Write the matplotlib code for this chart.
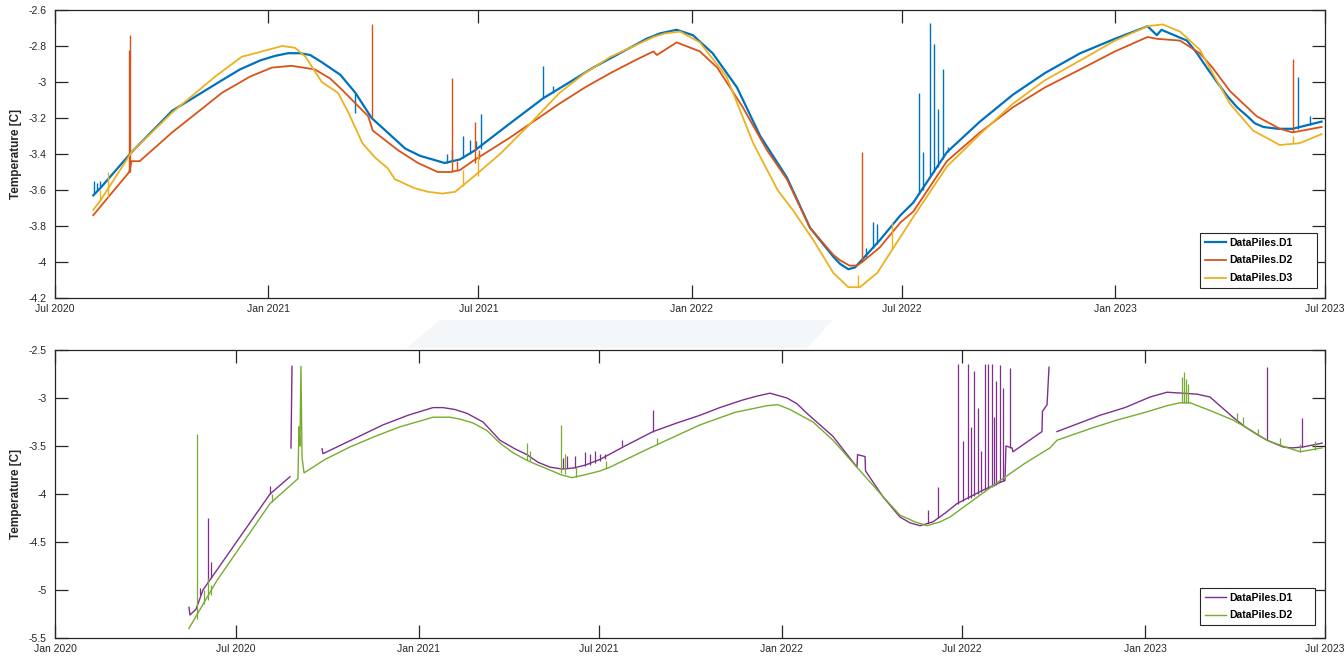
import numpy as np
import pandas as pd
import matplotlib
matplotlib.use("Agg")
import matplotlib.pyplot as plt
import matplotlib.dates as mdates
from matplotlib.ticker import FuncFormatter, MultipleLocator
from matplotlib.patches import Polygon

# ---------------- data: top panel (days since 2020-07-01) ----------------
top_origin = "2020-07-01"

d1_top_days = [33, 39, 66, 101, 144, 159.5, 177, 189.7, 201, 211.2, 220, 230, 246, 259, 273,
               302, 314.7, 336, 349.2, 362, 392.3, 421, 444, 464, 487.1, 510, 521.6, 536, 550,
               567, 588, 608, 631, 651, 671, 676.8, 684, 689.8, 694, 711, 729, 740, 769, 797.5,
               826, 853.6, 884, 913.9, 942, 950, 954, 976, 984.6, 993, 1001.8, 1011, 1019.1,
               1028, 1034.6, 1042, 1054.4, 1067, 1092]
d1_top_vals = [-3.63, -3.59, -3.39, -3.16, -2.99, -2.93, -2.88, -2.855, -2.84, -2.84, -2.85,
               -2.89, -2.96, -3.06, -3.20, -3.37, -3.41, -3.45, -3.43, -3.38, -3.23, -3.09,
               -3.00, -2.92, -2.84, -2.76, -2.73, -2.71, -2.74, -2.84, -3.03, -3.30, -3.53,
               -3.81, -3.97, -4.01, -4.04, -4.03, -4.00, -3.88, -3.74, -3.67, -3.39, -3.22,
               -3.07, -2.95, -2.84, -2.76, -2.69, -2.74, -2.71, -2.77, -2.84, -2.92, -3.00,
               -3.08, -3.14, -3.19, -3.23, -3.25, -3.26, -3.26, -3.22]

d2_top_days = [33, 64, 66, 73, 101, 144, 168.1, 187, 204, 224, 237.1, 247, 270, 274, 296, 313,
               330, 340.6, 349, 360, 392, 435, 457, 479, 500, 516, 519, 536, 556, 571, 593, 614,
               631, 651, 671, 676.8, 685, 691.5, 696, 711, 729, 740, 769, 797.5, 826, 853.6,
               884, 913.9, 942, 950, 970, 987, 998, 1013, 1036, 1056, 1067, 1092]
d2_top_vals = [-3.74, -3.50, -3.44, -3.44, -3.28, -3.06, -2.97, -2.92, -2.91, -2.93, -2.98,
               -3.04, -3.19, -3.27, -3.38, -3.45, -3.50, -3.50, -3.49, -3.44, -3.31, -3.12,
               -3.03, -2.95, -2.88, -2.83, -2.85, -2.78, -2.83, -2.92, -3.14, -3.38, -3.54,
               -3.81, -3.96, -3.99, -4.02, -4.02, -4.00, -3.92, -3.78, -3.72, -3.44, -3.28,
               -3.14, -3.03, -2.93, -2.83, -2.75, -2.76, -2.77, -2.84, -2.92, -3.05, -3.19,
               -3.26, -3.28, -3.25]

d3_top_days = [33, 39, 66, 101, 138, 161, 196, 207, 216, 230, 244, 253, 265, 276, 287, 293,
               310, 321.6, 334, 345, 362, 383.7, 407, 435, 457, 479, 516, 525.9, 539, 556,
               579, 602, 623, 636, 654, 671, 684, 694, 709, 729, 740, 769, 797.5, 826, 853.6,
               884, 913.9, 942, 955, 970, 987, 998, 1013, 1033, 1056, 1073, 1092]
d3_top_vals = [-3.71, -3.66, -3.39, -3.17, -2.97, -2.86, -2.80, -2.81, -2.86, -3.00, -3.06,
               -3.17, -3.34, -3.42, -3.48, -3.54, -3.59, -3.61, -3.62, -3.61, -3.52, -3.40,
               -3.25, -3.06, -2.95, -2.86, -2.75, -2.73, -2.72, -2.78, -2.97, -3.34, -3.60,
               -3.71, -3.88, -4.06, -4.14, -4.14, -4.06, -3.86, -3.75, -3.47, -3.29, -3.12,
               -2.99, -2.88, -2.77, -2.69, -2.68, -2.72, -2.82, -2.95, -3.12, -3.27, -3.35,
               -3.34, -3.29]

# spikes: day, base, tip
d1_top_spikes = [(34, -3.62, -3.55), (36, -3.60, -3.56), (39, -3.58, -3.55), (259, -3.06, -3.17),
                 (338, -3.45, -3.40), (342, -3.44, -3.38), (352, -3.42, -3.30), (358, -3.40, -3.32),
                 (363, -3.38, -3.33), (367, -3.37, -3.18), (421, -3.09, -2.91), (429, -3.06, -3.02),
                 (699, -3.97, -3.92), (705, -3.92, -3.78), (709, -3.90, -3.79), (745, -3.62, -3.06),
                 (748, -3.60, -3.39), (754, -3.53, -2.67), (758, -3.50, -2.79), (761, -3.47, -3.15),
                 (766, -3.43, -2.93), (770, -3.39, -3.36), (1072, -3.26, -2.97), (1082, -3.24, -3.19)]
d2_top_spikes = [(64, -3.50, -2.82), (65, -3.50, -2.74), (273, -3.20, -2.68), (342, -3.50, -2.98),
                 (347, -3.49, -3.44), (362, -3.45, -3.22), (366, -3.43, -3.38), (696, -4.00, -3.39),
                 (1067, -3.28, -2.87)]
d3_top_spikes = [(39, -3.66, -3.60), (46, -3.64, -3.50), (352, -3.58, -3.49), (365, -3.52, -3.40),
                 (692, -4.14, -4.07), (722, -3.93, -3.78), (1067, -3.34, -3.30)]

# ---------------- data: bottom panel (days since 2020-01-01) ----------------
bot_origin = "2020-01-01"

d1_bot_days = [134.7, 135.7, 141.8, 148.8, 162.9, 216.2, 236.3, np.nan,
               237.3, 238.3, np.nan,
               268.5, 269.5, 329.8, 354.9, 380.1, 390.1, 402.2, 414.3, 430.4, 447.4, 462.5,
               474.6, 485.7, 497.7, 509.8, 520.8, 532.9, 548.0, 573.1, 601.3, 625.4, 648.5,
               668.5, 691.8, 705.9, 718.9, 736.0, 746.1, 756.1, 769.2, 782.3, 794.3, 806.4,
               807.0, 814.5, 815.0, 832.6, 849.6, 859.7, 869.8, 882.8, 894.9, 907.0, 920.0,
               933.1, 950.2, 955.2, 956.2, 962.3, 963.3, 992.4, 992.9, 997.5, 999.5, np.nan,
               1007.5, 1050.7, 1075.9, 1101.0, 1118.1, 1134.2, 1148.3, 1161.4, 1172.4, 1184.5,
               1196.5, 1208.6, 1218.7, 1234.8, 1243.8, 1254.9, 1274.0]
d1_bot_vals = [-5.18, -5.26, -5.20, -5.00, -4.79, -4.00, -3.82, np.nan,
               -3.52, -2.67, np.nan,
               -3.53, -3.58, -3.28, -3.18, -3.10, -3.10, -3.12, -3.16, -3.25, -3.44, -3.53,
               -3.59, -3.67, -3.72, -3.74, -3.73, -3.70, -3.64, -3.50, -3.35, -3.26, -3.18,
               -3.10, -3.02, -2.98, -2.95, -3.00, -3.06, -3.16, -3.28, -3.40, -3.56, -3.72,
               -3.59, -3.61, -3.76, -4.03, -4.24, -4.30, -4.33, -4.29, -4.20, -4.10, -4.03,
               -3.96, -3.88, -3.86, -3.50, -3.52, -3.56, -3.35, -3.14, -3.07, -2.68, np.nan,
               -3.35, -3.18, -3.10, -2.99, -2.94, -2.95, -2.96, -2.99, -3.09, -3.20,
               -3.30, -3.38, -3.44, -3.51, -3.52, -3.51, -3.47]

d2_bot_days = [134.7, 162.9, 216.2, 244.3, 245.3, 246.3, 247.3, 248.4, 250.4, 271.5, 296.6,
               321.8, 346.9, 367.0, 380.1, 397.2, 407.2, 420.3, 434.4, 447.4, 460.5, 474.6,
               485.7, 497.7, 508.8, 519.8, 532.9, 548.0, 558.1, 598.3, 648.5, 683.7, 715.9,
               727.0, 739.0, 762.2, 782.3, 799.4, 816.5, 834.6, 849.6, 864.7, 876.8, 889.9,
               899.9, 925.1, 950.2, 975.3, 1000.4, 1007.5, 1040.7, 1067.8, 1096.0, 1118.1,
               1131.2, 1141.3, 1161.4, 1184.5, 1201.6, 1218.7, 1236.8, 1251.9, 1274.0]
d2_bot_vals = [-5.40, -4.90, -4.10, -3.84, -3.30, -3.50, -2.67, -3.62, -3.78, -3.64, -3.51,
               -3.40, -3.30, -3.24, -3.20, -3.20, -3.22, -3.26, -3.34, -3.47, -3.57, -3.65,
               -3.70, -3.75, -3.80, -3.83, -3.80, -3.76, -3.72, -3.52, -3.28, -3.15, -3.08,
               -3.07, -3.12, -3.25, -3.44, -3.64, -3.84, -4.05, -4.22, -4.29, -4.33, -4.29,
               -4.24, -4.05, -3.86, -3.68, -3.52, -3.44, -3.32, -3.23, -3.15, -3.08,
               -3.05, -3.05, -3.13, -3.23, -3.33, -3.44, -3.51, -3.56, -3.52]

d1_bot_spikes = [(145.8, -5.05, -4.98), (153.8, -4.92, -4.25), (156.9, -4.88, -4.71),
                 (216.2, -4.00, -3.92), (510.8, -3.73, -3.62), (514.8, -3.73, -3.60),
                 (522.9, -3.73, -3.60), (532.9, -3.71, -3.56), (537.9, -3.70, -3.58),
                 (543.0, -3.68, -3.55), (548.0, -3.66, -3.58), (553.0, -3.64, -3.58),
                 (570.0, -3.50, -3.44), (601.3, -3.35, -3.12), (878.0, -4.30, -4.17),
                 (888.0, -4.25, -3.93), (908.0, -4.10, -2.65), (913.0, -4.07, -3.45),
                 (918.0, -4.05, -2.65), (921.0, -4.04, -3.30), (924.0, -4.02, -2.72),
                 (928.0, -4.00, -3.10), (931.0, -3.98, -3.55), (935.0, -3.96, -2.65),
                 (938.0, -3.95, -2.65), (942.0, -3.93, -2.65), (944.0, -3.92, -3.20),
                 (946.0, -3.91, -2.82), (950.0, -3.88, -2.66), (953.0, -3.86, -2.90),
                 (960.0, -3.52, -2.69), (1218.7, -3.44, -2.68), (1254.0, -3.51, -3.21)]
d2_bot_spikes = [(142.8, -5.30, -3.37), (149.8, -5.15, -5.00), (153.8, -5.10, -4.88),
                 (156.9, -5.05, -4.95), (218.2, -4.08, -4.00), (474.6, -3.65, -3.47),
                 (477.6, -3.66, -3.55), (508.8, -3.78, -3.28), (512.8, -3.79, -3.58),
                 (523.9, -3.82, -3.72), (554.0, -3.73, -3.66), (605.0, -3.48, -3.42),
                 (1133.2, -3.05, -2.78), (1135.2, -3.05, -2.73), (1137.2, -3.05, -2.80),
                 (1139.3, -3.05, -2.85), (1188.5, -3.25, -3.16), (1194.5, -3.28, -3.20),
                 (1210.0, -3.38, -3.32), (1231.7, -3.50, -3.42), (1252.0, -3.56, -3.48),
                 (1267.0, -3.54, -3.45)]

blue, orange, yellow = "#0072BD", "#D95319", "#EDB120"
purple, green = "#7E2F8E", "#77AC30"
ink = "#262626"

plt.rcParams["font.family"] = ["Liberation Sans", "DejaVu Sans"]
plt.rcParams["axes.unicode_minus"] = False


def to_dates(origin, days):
    return pd.Timestamp(origin) + pd.to_timedelta(np.asarray(days, dtype=float), unit="D")


def add_spikes(ax, origin, spikes, color, lw):
    days = [s[0] for s in spikes]
    ax.vlines(to_dates(origin, days), [s[1] for s in spikes], [s[2] for s in spikes],
              color=color, lw=lw)


def style(ax, start, end, ylo, yhi, ystep):
    ax.set_xlim(pd.Timestamp(start), pd.Timestamp(end))
    ax.set_ylim(ylo, yhi)
    ax.yaxis.set_major_locator(MultipleLocator(ystep))
    ax.yaxis.set_major_formatter(FuncFormatter(lambda v, p: "%g" % round(v, 3)))
    ax.xaxis.set_major_locator(mdates.MonthLocator(bymonth=[1, 7]))
    ax.xaxis.set_major_formatter(mdates.DateFormatter("%b %Y"))
    ax.tick_params(direction="in", length=9.4, width=0.9, colors=ink, labelsize=7.5,
                   top=True, right=True)
    ax.tick_params(axis="x", pad=4)
    ax.tick_params(axis="y", pad=6)
    for s in ax.spines.values():
        s.set_color(ink)
        s.set_linewidth(0.9)
    ax.set_ylabel("Temperature [C]", fontsize=8.5, fontweight="bold", color=ink)
    ax.yaxis.set_label_coords(-0.026, 0.5)


fig = plt.figure(figsize=(13.44, 6.6), dpi=100)
# faint band between the panels
fig.patches.append(Polygon([(440 / 1344, 1 - 320 / 660), (833 / 1344, 1 - 320 / 660),
                            (807 / 1344, 1 - 348 / 660), (407 / 1344, 1 - 348 / 660)],
                           closed=True, transform=fig.transFigure, facecolor="#f3f7fa",
                           edgecolor="none", zorder=0))

ax1 = fig.add_axes([55 / 1344, 1 - 298 / 660, 1270 / 1344, 288 / 660])
ax2 = fig.add_axes([55 / 1344, 1 - 638 / 660, 1270 / 1344, 288 / 660])

ax1.plot(to_dates(top_origin, d1_top_days), d1_top_vals, color=blue, lw=1.6, label="DataPiles.D1")
add_spikes(ax1, top_origin, d1_top_spikes, blue, 1.0)
ax1.plot(to_dates(top_origin, d2_top_days), d2_top_vals, color=orange, lw=1.3, label="DataPiles.D2")
add_spikes(ax1, top_origin, d2_top_spikes, orange, 1.0)
ax1.plot(to_dates(top_origin, d3_top_days), d3_top_vals, color=yellow, lw=1.3, label="DataPiles.D3")
add_spikes(ax1, top_origin, d3_top_spikes, yellow, 1.0)
style(ax1, "2020-07-01", "2023-07-01", -4.2, -2.6, 0.2)

ax2.plot(to_dates(bot_origin, d1_bot_days), d1_bot_vals, color=purple, lw=1.0, label="DataPiles.D1")
add_spikes(ax2, bot_origin, d1_bot_spikes, purple, 0.9)
ax2.plot(to_dates(bot_origin, d2_bot_days), d2_bot_vals, color=green, lw=1.0, label="DataPiles.D2")
add_spikes(ax2, bot_origin, d2_bot_spikes, green, 0.9)
style(ax2, "2020-01-01", "2023-07-01", -5.5, -2.5, 0.5)

# MATLAB-like legend boxes with extra room on the right
for ax, yb, wb in ((ax1, 0.035, 0.0921), (ax2, 0.045, 0.0906)):
    lg = ax.legend(loc="lower left", bbox_to_anchor=(0.9016, yb, wb, 0.1), mode="expand",
                   borderaxespad=0, fancybox=False, framealpha=1, edgecolor=ink,
                   handlelength=2.0, handletextpad=0.4, labelspacing=0.75, borderpad=0.45,
                   prop={"size": 7.5, "weight": "bold"})
    lg.get_frame().set_linewidth(0.8)

fig.savefig("out.png", dpi=100)
